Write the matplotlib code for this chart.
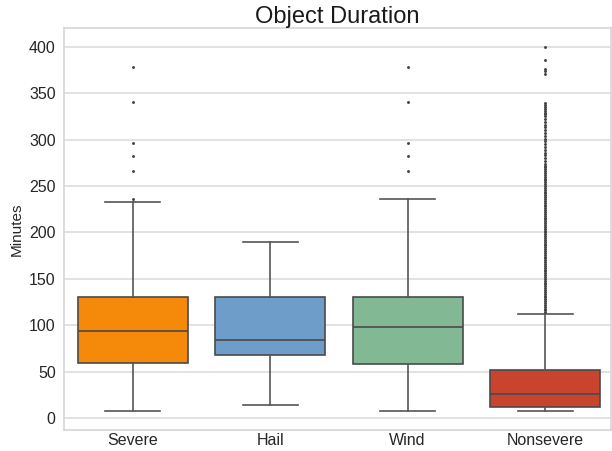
import matplotlib
matplotlib.use("Agg")
import matplotlib.pyplot as plt

plt.rcParams['font.family'] = ['Liberation Sans', 'DejaVu Sans']

categories = ["Severe", "Hail", "Wind", "Nonsevere"]
colors = ["#F5890A", "#6E9DC9", "#82B893", "#C8442E"]

q1 = [60, 68, 58, 12]
med = [94, 84, 98, 26.5]
q3 = [130, 130, 131, 51.7]
whislo = [8, 14.5, 8, 8]
whishi = [232.5, 190, 236, 112.7]

fliers_severe = [236, 266, 282, 296, 340, 378]
fliers_hail = []
fliers_wind = [266, 282, 296, 340, 378]
fliers_nonsevere = [
    114, 116, 118, 120, 122, 124, 126, 128, 130, 132, 134, 136, 138, 140,
    142, 144, 146, 148, 150, 152, 154, 156, 158, 160, 162, 164, 166, 168,
    170, 172, 174, 176, 178, 180, 182, 184, 186, 188, 190, 192, 194, 196,
    198, 200, 202, 204, 206, 208, 210, 212, 214, 216, 218, 220, 222, 224,
    226, 228, 230, 232, 234, 236, 238, 240, 242, 244, 246, 248, 250, 252,
    254, 256, 258, 260, 262, 264, 266, 268, 270, 272, 274,
    277, 280, 283, 286, 289, 292, 295, 298, 301, 304, 307, 310, 313, 316,
    319, 322, 325, 327, 329, 331, 333, 335, 337, 339,
    371, 374, 376, 386, 400,
]
fliers = [fliers_severe, fliers_hail, fliers_wind, fliers_nonsevere]

stats = []
for i, name in enumerate(categories):
    stats.append(dict(label=name, q1=q1[i], med=med[i], q3=q3[i],
                      whislo=whislo[i], whishi=whishi[i], fliers=fliers[i]))

fig = plt.figure(figsize=(6.12, 4.51), dpi=100)
ax = fig.add_axes([64/612, 21/451, 547/612, 402/451])

line_c = "#555555"
bp = ax.bxp(stats, positions=range(len(categories)), widths=0.8,
            patch_artist=True, showfliers=True,
            boxprops=dict(edgecolor="#4a4a4a", linewidth=1.2),
            medianprops=dict(color="#4a4a4a", linewidth=1.2),
            whiskerprops=dict(color=line_c, linewidth=1.2),
            capprops=dict(color=line_c, linewidth=1.2),
            flierprops=dict(marker='o', markersize=1.1, markerfacecolor="#444444",
                            markeredgecolor="#444444", linestyle='none'))
for patch, c in zip(bp['boxes'], colors):
    patch.set_facecolor(c)

ax.set_xlim(-0.5, 3.48)
ax.set_ylim(-12.6, 420)
ax.set_yticks([0, 50, 100, 150, 200, 250, 300, 350, 400])
ax.set_xticks(range(len(categories)))
ax.set_xticklabels(categories)
ax.yaxis.grid(True, color="#dddddd", linewidth=1.2)
ax.set_axisbelow(True)
ax.tick_params(axis='y', length=0, labelsize=11.5, colors="#262626", pad=6)
ax.tick_params(axis='x', length=0, labelsize=11.5, colors="#262626", pad=2)
for s in ax.spines.values():
    s.set_color("#d5d5d5")
    s.set_linewidth(1.2)

ax.set_ylabel("Minutes", fontsize=11, color="#262626", labelpad=4)
ax.set_title("Object Duration", fontsize=17, color="#1a1a1a", pad=1)

fig.savefig("out.png", dpi=100)
